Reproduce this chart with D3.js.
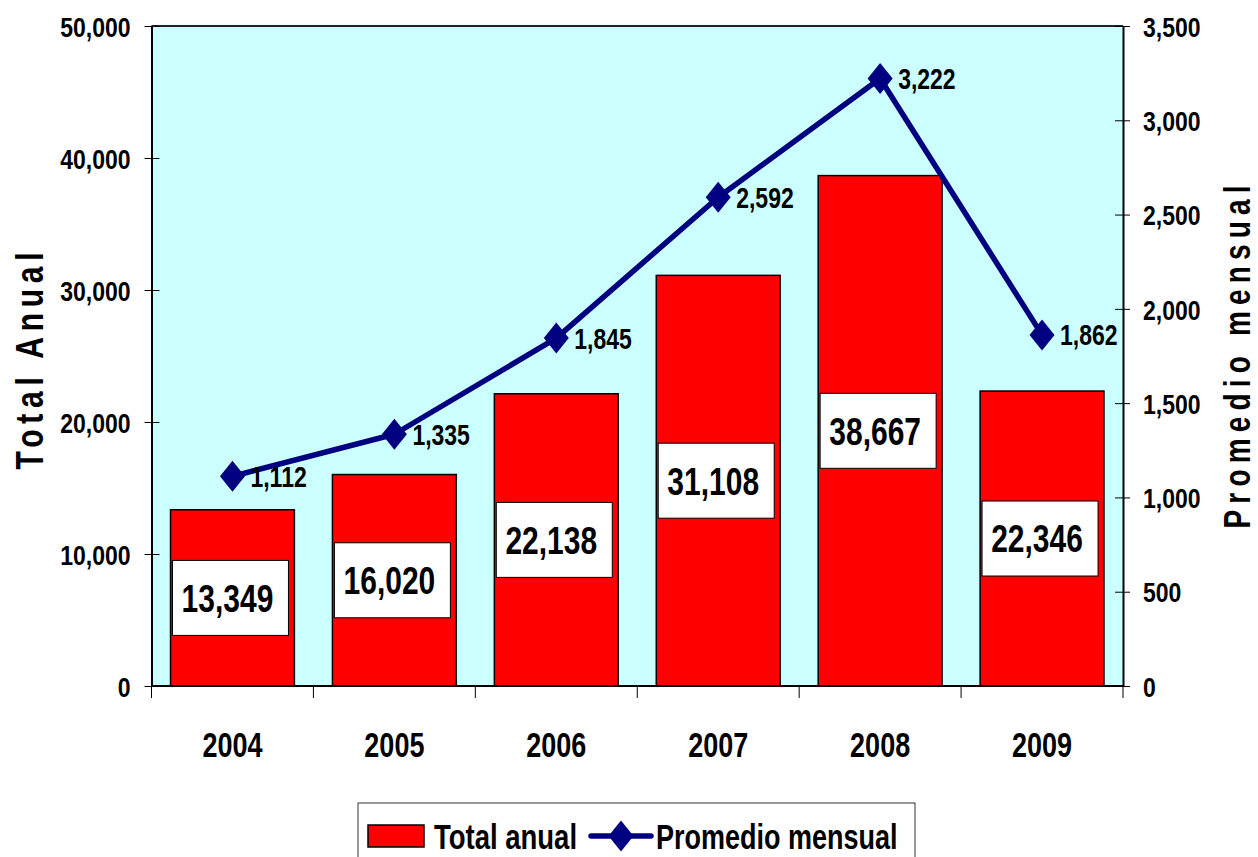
<!DOCTYPE html>
<html>
<head>
<meta charset="utf-8">
<script src="https://cdn.jsdelivr.net/npm/d3@7"></script>
<style>
  body { margin: 0; background: #fff; }
  svg { display: block; font-family: "Liberation Sans", Arial, sans-serif; font-weight: bold; }
</style>
</head>
<body>
<div id="chart"></div>
<script>
// data
const years = ['2004', '2005', '2006', '2007', '2008', '2009'];
const totalAnual = [13349, 16020, 22138, 31108, 38667, 22346];
const promedioMensual = [1112, 1335, 1845, 2592, 3222, 1862];
const leftTicks = [0, 10000, 20000, 30000, 40000, 50000];
const rightTicks = [0, 500, 1000, 1500, 2000, 2500, 3000, 3500];
const legendLabels = ['Total anual', 'Promedio mensual'];

const width = 1258, height = 857;
const plot = {left: 151.5, right: 1123, top: 26, bottom: 686};
const fmt = d3.format(',');

const svg = d3.select('#chart').append('svg')
    .attr('width', width)
    .attr('height', height);

const x = d3.scaleBand()
    .domain(years)
    .range([plot.left, plot.right])
    .paddingInner(0.235)
    .paddingOuter(0.1175);

const yLeft = d3.scaleLinear().domain([0, 50000]).range([plot.bottom, plot.top]);
const yRight = d3.scaleLinear().domain([0, 3500]).range([plot.bottom, plot.top]);

// text that is stretched vertically like the original
function addText(g, str, px, baseline, size, sy, anchor){
    return g.append('text')
        .attr('transform', 'translate(' + px + ',' + baseline + ') scale(1,' + sy + ')')
        .attr('font-size', size)
        .attr('text-anchor', anchor || 'start')
        .attr('fill', '#000')
        .text(str);
}
function centerBase(cy, size, sy){
    return cy + 0.716 * size * sy / 2;
}

// plot background
svg.append('rect')
    .attr('x', plot.left).attr('y', plot.top)
    .attr('width', plot.right - plot.left)
    .attr('height', plot.bottom - plot.top)
    .attr('fill', '#ccffff');
svg.append('line')
    .attr('x1', plot.left).attr('x2', plot.right)
    .attr('y1', plot.top).attr('y2', plot.top)
    .attr('stroke', '#222').attr('stroke-width', 2);

// bars
const bars = svg.append('g').attr('class', 'bars');
bars.selectAll('rect')
    .data(totalAnual)
    .join('rect')
    .attr('x', (d, i) => x(years[i]))
    .attr('y', d => yLeft(d))
    .attr('width', x.bandwidth())
    .attr('height', d => plot.bottom - yLeft(d))
    .attr('fill', '#ff0000')
    .attr('stroke', '#000')
    .attr('stroke-width', 1.5);

// white label boxes in the middle of each bar
const boxW = 116, boxH = 75;
const labels = svg.append('g').attr('class', 'bar-labels');
totalAnual.forEach((d, i) => {
    let cx = x(years[i]) + x.bandwidth() / 2 - 2;
    let cy = (yLeft(d) + plot.bottom) / 2;
    labels.append('rect')
        .attr('x', cx - boxW / 2).attr('y', cy - boxH / 2)
        .attr('width', boxW).attr('height', boxH)
        .attr('fill', '#fff').attr('stroke', '#000').attr('stroke-width', 1);
    addText(labels, fmt(d), cx - 3, centerBase(cy, 30, 1.29), 30, 1.29, 'middle');
});

// left axis
const axL = svg.append('g')
    .attr('transform', 'translate(' + plot.left + ',0)')
    .call(d3.axisLeft(yLeft).tickValues(leftTicks).tickSize(7).tickPadding(14).tickSizeOuter(0).tickFormat(fmt));
axL.select('.domain').attr('stroke', '#000').attr('stroke-width', 2);
axL.selectAll('.tick line').attr('x1', -7).attr('x2', 8).attr('stroke', '#000');
axL.selectAll('.tick text')
    .attr('font-size', 23).attr('font-family', null).attr('fill', '#000')
    .attr('dy', '0.36em')
    .attr('transform', 'scale(1,1.24)');

// right axis
const axR = svg.append('g')
    .attr('transform', 'translate(' + plot.right + ',0)')
    .call(d3.axisRight(yRight).tickValues(rightTicks).tickSize(7).tickPadding(13).tickSizeOuter(0).tickFormat(fmt));
axR.select('.domain').attr('stroke', '#000').attr('stroke-width', 2);
axR.selectAll('.tick line').attr('x1', -8).attr('x2', 7).attr('stroke', '#000');
axR.selectAll('.tick text')
    .attr('font-size', 23).attr('font-family', null).attr('fill', '#000')
    .attr('dy', '0.36em')
    .attr('transform', 'scale(1,1.24)');

// bottom axis, ticks between the categories
const axB = svg.append('g').attr('class', 'x-axis');
axB.append('line')
    .attr('x1', plot.left).attr('x2', plot.right)
    .attr('y1', plot.bottom).attr('y2', plot.bottom)
    .attr('stroke', '#000').attr('stroke-width', 2);
const bounds = years.map(y => x(y) - x.step() * x.paddingInner() / 2).concat([plot.right]);
axB.selectAll('line.tk')
    .data(bounds)
    .join('line')
    .attr('class', 'tk')
    .attr('x1', d => d).attr('x2', d => d)
    .attr('y1', plot.bottom).attr('y2', plot.bottom + 12)
    .attr('stroke', '#000').attr('stroke-width', 1);
years.forEach(y => {
    addText(axB, y, x(y) + x.bandwidth() / 2, 757, 27, 1.33, 'middle');
});

// line series on the right axis
const cxOf = i => x(years[i]) + x.bandwidth() / 2;
const line = d3.line()
    .x((d, i) => cxOf(i))
    .y(d => yRight(d));
svg.append('path')
    .datum(promedioMensual)
    .attr('d', line)
    .attr('fill', 'none')
    .attr('stroke', '#000080')
    .attr('stroke-width', 5.5)
    .attr('stroke-linejoin', 'round');

const diamond = (cx, cy, w, h) => 'M' + cx + ',' + (cy - h / 2) + 'L' + (cx + w / 2) + ',' + cy +
    'L' + cx + ',' + (cy + h / 2) + 'L' + (cx - w / 2) + ',' + cy + 'Z';
const marks = svg.append('g').attr('class', 'markers');
promedioMensual.forEach((d, i) => {
    marks.append('path')
        .attr('d', diamond(cxOf(i), yRight(d), 25, 31))
        .attr('fill', '#000080');
    addText(marks, fmt(d), cxOf(i) + 18, centerBase(yRight(d), 23, 1.27), 23, 1.27, 'start');
});

// axis titles
svg.append('text')
    .attr('transform', 'translate(43,361) rotate(-90) scale(1,1.3)')
    .attr('font-size', 30)
    .attr('text-anchor', 'middle')
    .attr('textLength', 217)
    .attr('lengthAdjust', 'spacing')
    .text('Total Anual');
svg.append('text')
    .attr('transform', 'translate(1250,357) rotate(-90) scale(1,1.3)')
    .attr('font-size', 28)
    .attr('text-anchor', 'middle')
    .attr('textLength', 343)
    .attr('lengthAdjust', 'spacing')
    .text('Promedio mensual');

// legend
const leg = svg.append('g').attr('class', 'legend');
leg.append('rect')
    .attr('x', 358).attr('y', 803)
    .attr('width', 557).attr('height', 80)
    .attr('fill', '#fff').attr('stroke', '#333').attr('stroke-width', 1);
leg.append('rect')
    .attr('x', 368).attr('y', 825)
    .attr('width', 56).attr('height', 22)
    .attr('fill', '#ff0000').attr('stroke', '#000').attr('stroke-width', 1.5);
addText(leg, legendLabels[0], 434, centerBase(836, 27.5, 1.3), 27.5, 1.3, 'start');
leg.append('line')
    .attr('x1', 591).attr('x2', 651)
    .attr('y1', 836).attr('y2', 836)
    .attr('stroke', '#000080').attr('stroke-width', 5.5)
    .attr('stroke-linecap', 'round');
leg.append('path')
    .attr('d', diamond(621, 836, 25, 31))
    .attr('fill', '#000080');
addText(leg, legendLabels[1], 656, centerBase(836, 27, 1.3), 27, 1.3, 'start');
</script>
</body>
</html>
